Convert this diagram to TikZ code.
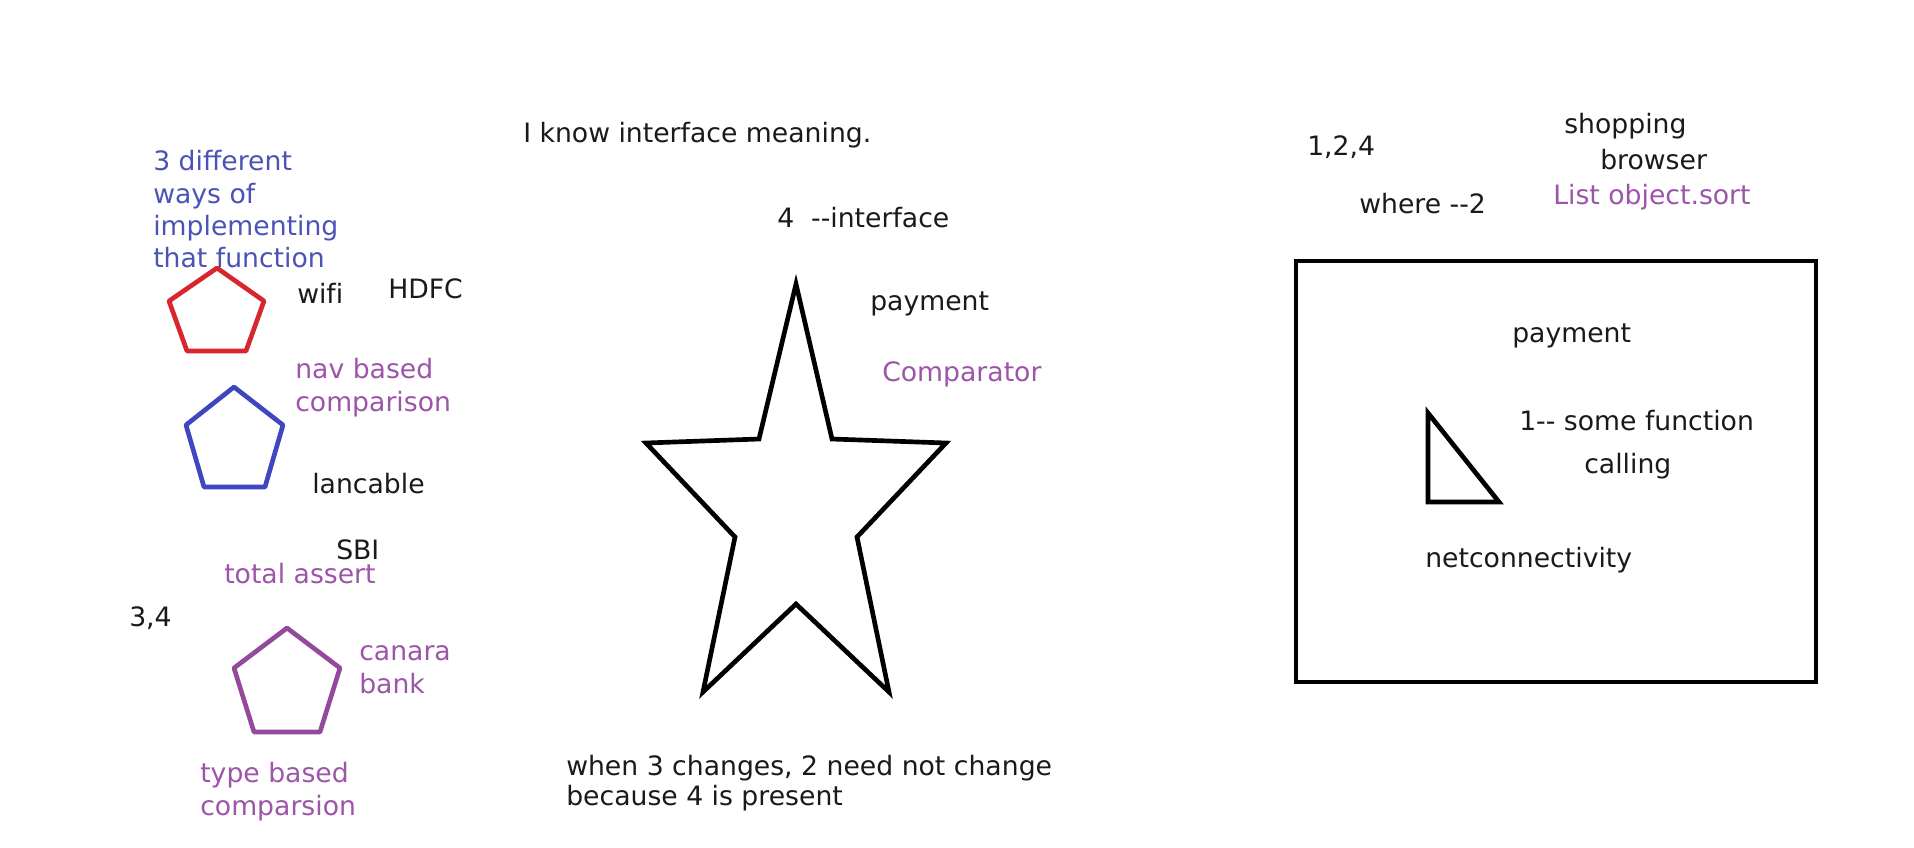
\documentclass[tikz,border=0pt]{standalone}
\usepackage{fontspec}
\setmainfont{DejaVu Sans}
\definecolor{inkblack}{HTML}{1A1A1A}
\definecolor{inkblue}{HTML}{4B54B5}
\definecolor{inkpurple}{HTML}{9C55A8}
\definecolor{penred}{HTML}{D7262D}
\definecolor{penblue}{HTML}{3E47BF}
\definecolor{penpurple}{HTML}{944A9C}
\tikzset{
  txt/.style={anchor=base west, inner sep=0pt, text=inkblack, font=\fontsize{20}{24}\selectfont},
  blu/.style={text=inkblue},
  pur/.style={text=inkpurple},
  shapeline/.style={line width=3.5pt, line join=round},
}
\begin{document}
\begin{tikzpicture}[x=0.75pt,y=-0.75pt]
\useasboundingbox[fill=white] (0,0) rectangle (1914,847);

% left column
\node[txt,blu] (l1) at (153,170) {3 different};
\node[txt,blu] (l2) at (153,203) {ways of};
\node[txt,blu] (l3) at (153,235) {implementing};
\node[txt,blu] (l4) at (153,267) {that function};
\draw[shapeline, penred] (217,268) -- (264,301) -- (246,351) -- (187,351) -- (169,301) -- cycle;
\node[txt] (wifi) at (297,303) {wif\kern0pt i};
\node[txt] (hdfc) at (388,298) {HDFC};
\node[txt,pur] (nav1) at (295,378) {nav based};
\node[txt,pur] (nav2) at (295,411) {comparison};
\draw[shapeline, penblue] (234,387) -- (283,425) -- (265,487) -- (204,487) -- (186,425) -- cycle;
\node[txt] (lan) at (312,493) {lancable};
\node[txt] (sbi) at (336,559) {SBI};
\node[txt,pur] (tot) at (224,583) {total assert};
\node[txt] (n34) at (129,626) {3,4};
\draw[shapeline, penpurple] (287,628) -- (340,668) -- (320,732) -- (254,732) -- (234,668) -- cycle;
\node[txt,pur] (can1) at (359,660) {canara};
\node[txt,pur] (can2) at (359,693) {bank};
\node[txt,pur] (typ1) at (200,782) {type based};
\node[txt,pur] (typ2) at (200,815) {comparsion};

% middle
\node[txt] (know) at (523,142) {I know interface meaning.};
\node[txt] (four) at (777,227) {4\ \ -{}-interface};
\node[txt] (pay1) at (870,310) {payment};
\node[txt,pur] (comp) at (882,381) {Comparator};
\draw[shapeline, line join=miter, black] (796,284) -- (832,439) -- (946,443) -- (857,537) -- (889,692) -- (796,604)
  -- (703,692) -- (735,537) -- (646,443) -- (759,439) -- cycle;
\node[txt] (when1) at (566,775) {when 3 changes, 2 need not change};
\node[txt] (when2) at (566,805) {because 4 is present};

% right
\node[txt] (n124) at (1307,155) {1,2,4};
\node[txt] (shop) at (1564,133) {shopping};
\node[txt] (brow) at (1600,169) {browser};
\node[txt] (where) at (1359,213) {where -{}-2};
\node[txt,pur] (list) at (1553,204) {List object.sort};
\draw[line width=3.6pt, black] (1296,261) rectangle (1816,682);
\node[txt] (pay2) at (1512,342) {payment};
\draw[shapeline, line join=miter, black] (1428,413) -- (1428,502) -- (1499,502) -- cycle;
\node[txt] (some) at (1519,430) {1-{}- some function};
\node[txt] (call) at (1584,473) {calling};
\node[txt] (net) at (1425,567) {netconnectivity};
\end{tikzpicture}
\end{document}
